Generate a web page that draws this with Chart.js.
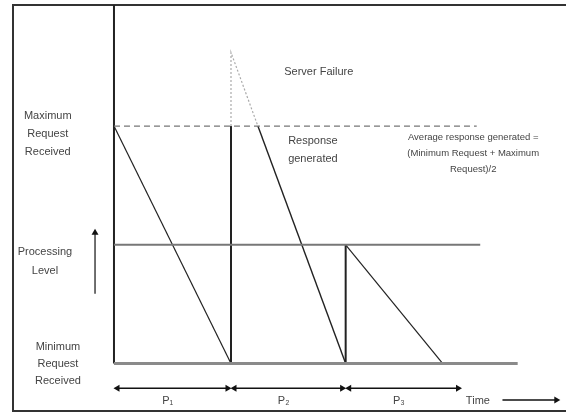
<!DOCTYPE html>
<html>
<head>
<meta charset="utf-8">
<script src="https://cdn.jsdelivr.net/npm/chart.js@4.4.1/dist/chart.umd.min.js"></script>
<style>
body{margin:0;background:#fff}
#wrap{width:566px;height:413px}
</style>
</head>
<body>
<div id="wrap"><canvas id="chart" width="566" height="413"></canvas></div>
<script>

// levels (y): minimum request = 0, maximum request = 1
let levelMin=0
let levelProc=0.5
let levelMax=1

// time marks (x), one unit per phase
let phaseEdges=[0,1,1.98,2.97]
let phaseNames=["P\u2081","P\u2082","P\u2083"]

// lines
let drop1X=[0,1],drop1Y=[1,0]
let failX=[1,1],failY=[0,1]
let spikeX=[1,1,1.23],spikeY=[1,1.31,1]
let drop2X=[1.23,1.98],drop2Y=[1,0]
let drop3X=[1.98,1.98,2.81],drop3Y=[0,0.5,0]
let axisX=[0,0],axisY=[0,1.51]
let maxLineX=[0,3.10]
let procLineX=[0,3.13]
let baseLineX=[0,3.45]
let arrowY=-0.104
let timeArrowX=[3.32,3.81]
let upArrowX=-0.162,upArrowY=[0.294,0.566]

function pts(xs,ys){
return xs.map((x,i)=>({x:x,y:ys[i]}))
}

function line(data,color,width,dash){
return {data:data,showLine:true,borderColor:color,borderWidth:width,borderDash:dash||[],pointRadius:0,clip:false,tension:0}
}

function arrow(x0,x1,y,heads){
return {
data:[{x:x0,y:y},{x:x1,y:y}],
showLine:true,borderColor:"#111",borderWidth:1.5,clip:false,
pointStyle:"triangle",
pointRadius:[heads[0]?4:0,heads[1]?4:0],
rotation:[270,90],
pointBackgroundColor:"#111",pointBorderColor:"#111",pointBorderWidth:0
}
}

let datasets=[
line(pts(maxLineX,[levelMax,levelMax]),"#777",1.2,[6,4]),
line(pts(procLineX,[levelProc,levelProc]),"#777",2),
line(pts(baseLineX,[levelMin,levelMin]),"#8a8a8a",3),
line(pts(axisX,axisY),"#222",2),
line(pts(drop1X,drop1Y),"#222",1.2),
line(pts(failX,failY),"#222",2),
line(pts(spikeX,spikeY),"#aaa",1.2,[2,2]),
line(pts(drop2X,drop2Y),"#222",1.4),
line(pts(drop3X.slice(0,2),drop3Y.slice(0,2)),"#222",2),
line(pts(drop3X.slice(1),drop3Y.slice(1)),"#222",1.2)
]

for(let i=0;i<3;i++){
datasets.push(arrow(phaseEdges[i]+0.03,phaseEdges[i+1]-0.03,arrowY,[1,1]))
}
datasets.push(arrow(timeArrowX[0],timeArrowX[1]-0.03,arrowY-0.05,[0,1]))
datasets.push({
data:[{x:upArrowX,y:upArrowY[0]},{x:upArrowX,y:upArrowY[1]-0.015}],
showLine:true,borderColor:"#111",borderWidth:1.2,clip:false,
pointStyle:"triangle",pointRadius:[0,4],rotation:0,
pointBackgroundColor:"#111",pointBorderWidth:0
})

let labels=[
{lines:["Maximum","Request","Received"],x:-0.566,y:0.968,lh:18,size:11},
{lines:["Processing","Level"],x:-0.59,y:0.428,lh:19,size:11},
{lines:["Minimum","Request","Received"],x:-0.479,y:0.0,lh:17,size:11},
{lines:["Server Failure"],x:1.75,y:1.227,lh:16,size:11},
{lines:["Response","generated"],x:1.70,y:0.901,lh:18,size:11},
{lines:["Average response generated =","(Minimum Request + Maximum","Request)/2"],x:3.07,y:0.884,lh:16,size:9.5},
{lines:["Time"],x:3.11,y:-0.157,lh:16,size:11}
]

let textPlugin={
id:"texts",
afterDatasetsDraw(c){
let ctx=c.ctx
let xs=c.scales.x,ys=c.scales.y
ctx.save()
ctx.fillStyle="#444"
ctx.textAlign="center"
ctx.textBaseline="middle"
labels.forEach(l=>{
ctx.font=l.size+"px 'Liberation Sans', Arial, sans-serif"
let cx=xs.getPixelForValue(l.x)
let cy=ys.getPixelForValue(l.y)-(l.lines.length-1)*l.lh/2
l.lines.forEach((t,i)=>ctx.fillText(t,cx,cy+i*l.lh))
})
ctx.font="11px 'Liberation Sans', Arial, sans-serif"
for(let i=0;i<3;i++){
let mx=(phaseEdges[i]+phaseEdges[i+1])/2-0.04
ctx.fillText(phaseNames[i],xs.getPixelForValue(mx),ys.getPixelForValue(arrowY-0.055))
}
ctx.restore()
},
beforeDatasetsDraw(c){
let a=c.chartArea
let ctx=c.ctx
ctx.save()
ctx.strokeStyle="#333"
ctx.lineWidth=2
ctx.strokeRect(a.left,a.top,a.right-a.left+10,a.bottom-a.top)
ctx.restore()
}
}

new Chart(document.getElementById("chart"),{
type:"scatter",
data:{datasets:datasets},
options:{
responsive:false,
animation:false,
layout:{autoPadding:false,padding:{left:13,top:5,right:0,bottom:2}},
plugins:{legend:{display:false},tooltip:{enabled:false}},
scales:{
x:{type:"linear",min:-0.863,max:3.863,display:false},
y:{type:"linear",min:-0.2,max:1.51,display:false}
}
},
plugins:[textPlugin]
})

</script>
</body>
</html>
